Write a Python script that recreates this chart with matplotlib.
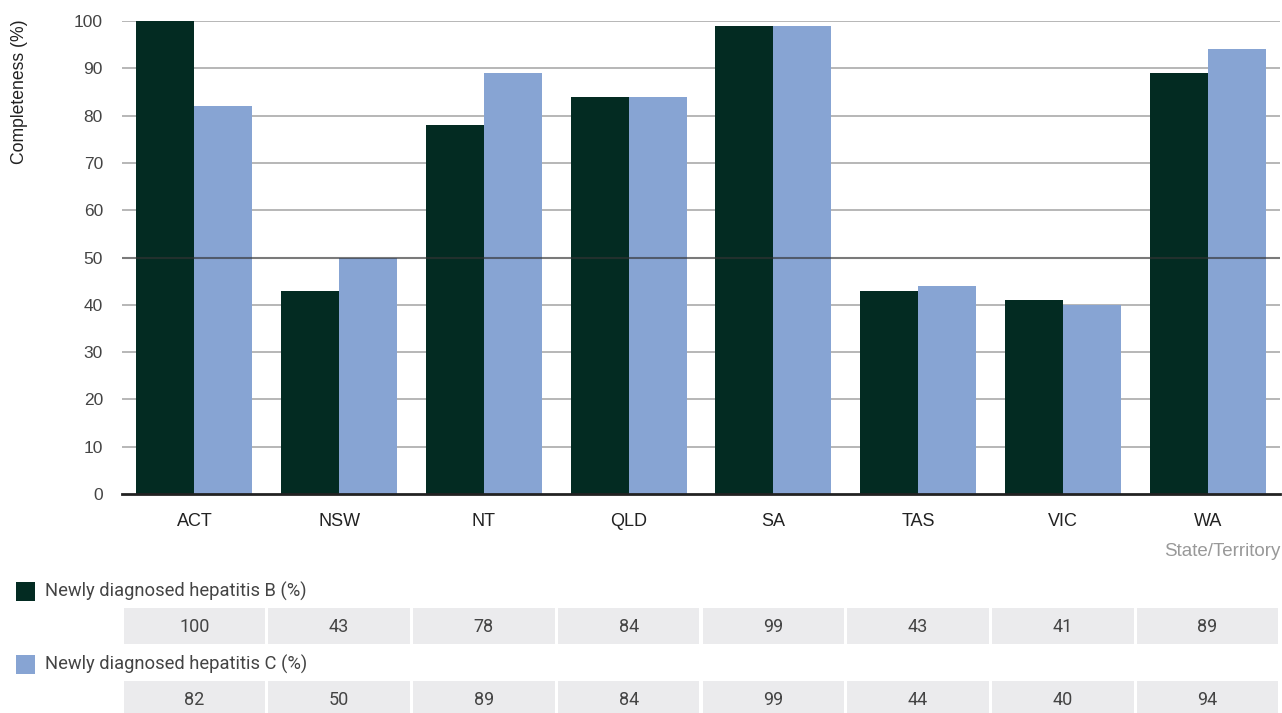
import matplotlib.pyplot as plt
from matplotlib.patches import Rectangle

states = ['ACT', 'NSW', 'NT', 'QLD', 'SA', 'TAS', 'VIC', 'WA']
hep_b = [100, 43, 78, 84, 99, 43, 41, 89]
hep_c = [82, 50, 89, 84, 99, 44, 40, 94]
yticks = [0, 10, 20, 30, 40, 50, 60, 70, 80, 90, 100]

dark = '#032b22'
light = '#87a4d3'
W, H = 1282, 713

fig = plt.figure(figsize=(W / 100, H / 100), dpi=100)
ax = fig.add_axes([122 / W, 1 - 494 / H, 1158 / W, 473 / H])

x = list(range(len(states)))
ax.bar([i - 0.2 for i in x], hep_b, width=0.4, color=dark, zorder=2)
ax.bar([i + 0.2 for i in x], hep_c, width=0.4, color=light, zorder=2)

ax.set_xlim(-0.5, len(states) - 0.5)
ax.set_ylim(0, 100)
ax.set_yticks(yticks)
ax.set_xticks(x)
ax.set_xticklabels(states, fontsize=13, color='#222222', family='Liberation Sans')
for lbl in ax.get_yticklabels():
    lbl.set_fontsize(12.5)
    lbl.set_color('#444444')
    lbl.set_family('Liberation Sans')
ax.tick_params(axis='y', length=0, pad=13.7)
ax.tick_params(axis='x', length=0, pad=14)

for t in yticks:
    if t == 50:
        ax.axhline(t, color='#333333', lw=1.5, alpha=0.65, zorder=3)
    elif t > 0:
        ax.axhline(t, color='#aaaaaa', lw=1.2, zorder=1)

for s in ['top', 'right', 'left']:
    ax.spines[s].set_visible(False)
ax.spines['bottom'].set_color('#222222')
ax.spines['bottom'].set_linewidth(2)
ax.spines['bottom'].set_zorder(4)

fig.text(20 / W, 1 - 92 / H, 'Completeness (%)', rotation=90, ha='center', va='center',
         fontsize=12.7, color='#222222', family='Liberation Sans')
fig.text(1280 / W, 1 - 552 / H, 'State/Territory', ha='right', va='center',
         fontsize=13.5, color='#999999', family='Liberation Sans')

# data table under the chart
tab = fig.add_axes([122 / W, 0, 1158 / W, 219 / H])
tab.set_xlim(-0.5, len(states) - 0.5)
tab.set_ylim(713, 494)
tab.axis('off')

rows = [(hep_b, 608, 36), (hep_c, 681, 32)]
gap = 0.011
for vals, top, h in rows:
    for i, v in enumerate(vals):
        tab.add_patch(Rectangle((i - 0.5 + gap, top), 1 - 2 * gap, h,
                                facecolor='#ebebed', edgecolor='none'))
        tab.text(i, top + 19, str(v), ha='center', va='center',
                 fontsize=13, color='#444444', family='Roboto')

legend = [('Newly diagnosed hepatitis B (%)', dark, 591),
          ('Newly diagnosed hepatitis C (%)', light, 664)]
for label, col, yc in legend:
    fig.patches.append(Rectangle((16 / W, 1 - (yc + 9.5) / H), 19 / W, 19 / H,
                                 transform=fig.transFigure, facecolor=col,
                                 edgecolor='none'))
    fig.text(45 / W, 1 - yc / H, label, ha='left', va='center',
             fontsize=13.2, color='#444444', family='Roboto')

fig.savefig('out.png', dpi=100)
